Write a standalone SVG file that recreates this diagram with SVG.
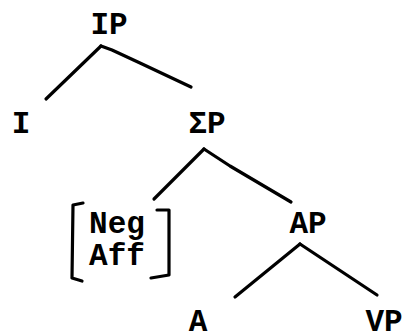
<svg xmlns="http://www.w3.org/2000/svg" width="403" height="332" viewBox="0 0 403 332">
<style>
text{font-family:"Liberation Mono","DejaVu Sans Mono",monospace;font-weight:bold;font-size:31px;fill:#000;text-anchor:middle}
.ln{stroke:#000;stroke-width:3.2;fill:none;stroke-linecap:round;stroke-linejoin:round}
</style>
<rect width="403" height="332" fill="#fff"/>
<g id="connectors">
<path class="ln" d="M101,46 L46,99"/>
<path class="ln" d="M101,46 L112,50 L140,63 L191,87"/>
<path class="ln" d="M204,149 L154,199"/>
<path class="ln" d="M204,149 L230,166 L291,202"/>
<path class="ln" d="M300,244 L235,297"/>
<path class="ln" d="M300,244 L377,295"/>
</g>
<g id="IP"><text x="109" y="34">IP</text></g>
<g id="I"><text x="21" y="133">I</text></g>
<g id="SigmaP"><text x="207" y="133">ΣP</text></g>
<g id="NegAff">
<path class="ln" d="M83,203 L73,205 L72,278 L82,281"/>
<path class="ln" d="M157,210 L169,210 L169,275 L151,278"/>
<text x="117" y="233">Neg</text>
<text x="117" y="265">Aff</text>
</g>
<g id="AP"><text x="308" y="233">AP</text></g>
<g id="A"><text x="198" y="331">A</text></g>
<g id="VP"><text x="384" y="331">VP</text></g>
</svg>
